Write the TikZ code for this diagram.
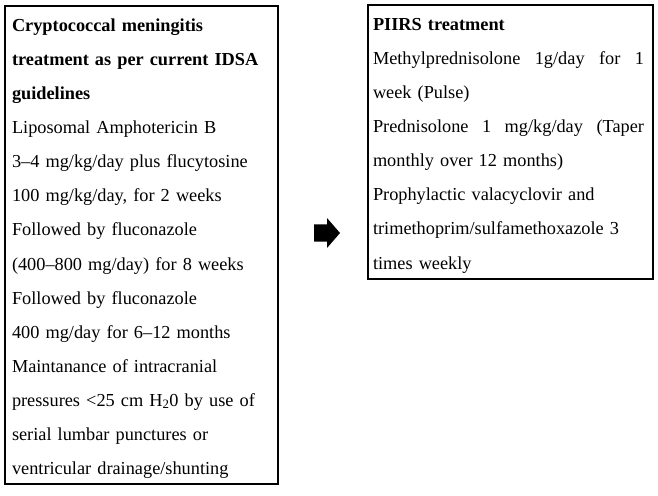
\documentclass[tikz,border=0pt]{standalone}
\usepackage{fontspec}
\setmainfont{Liberation Serif}
\usetikzlibrary{positioning}

\newcommand{\firstline}{\rule{0pt}{20bp}}
\newcommand{\fullline}[1]{\leavevmode\hbox to 271bp{\spaceskip=.25em plus 1fil\relax #1}}

\begin{document}
\begin{tikzpicture}[x=1bp, y=-1bp,
                    every node/.style={font=\fontsize{18.3bp}{34bp}\selectfont},
                    box/.style={draw, line width=2bp, align=left, inner ysep=6bp}]
    \useasboundingbox (0,0) rectangle (658,496);

    \node[box, anchor=north west, text width=259bp, inner xsep=7bp] (idsa) at (4,5)
        {\firstline\textbf{Cryptococcal meningitis}\\
         \textbf{treatment as per current IDSA}\\
         \textbf{guidelines}\\
         Liposomal Amphotericin B\\
         3--4 mg/kg/day plus flucytosine\\
         100 mg/kg/day, for 2 weeks\\
         Followed by fluconazole\\
         (400--800 mg/day) for 8 weeks\\
         Followed by fluconazole\\
         400 mg/day for 6--12 months\\
         Maintanance of intracranial\\
         pressures <25 cm H\textsubscript{2}0 by use of\\
         serial lumbar punctures or\\
         ventricular drainage/shunting};

    \node[box, right=88bp of idsa.north east, anchor=north west, yshift=1bp,
          text width=275bp, inner xsep=5bp] (piirs)
        {\firstline\textbf{PIIRS treatment}\\
         \fullline{Methylprednisolone 1g/day for 1}\\
         week (Pulse)\\
         \fullline{Prednisolone 1 mg/kg/day (Taper}\\
         monthly over 12 months)\\
         Prophylactic valacyclovir and\\
         trimethoprim/sulfamethoxazole 3\\
         times weekly};

    % block arrow between the boxes
    \coordinate (arrow) at (327,233);
    \fill (arrow) ++(-13,-8.5) -- ++(13,0) -- ++(0,-6.5) -- ++(13,15)
        -- ++(-13,15) -- ++(0,-6.5) -- ++(-13,0) -- cycle;
\end{tikzpicture}
\end{document}
